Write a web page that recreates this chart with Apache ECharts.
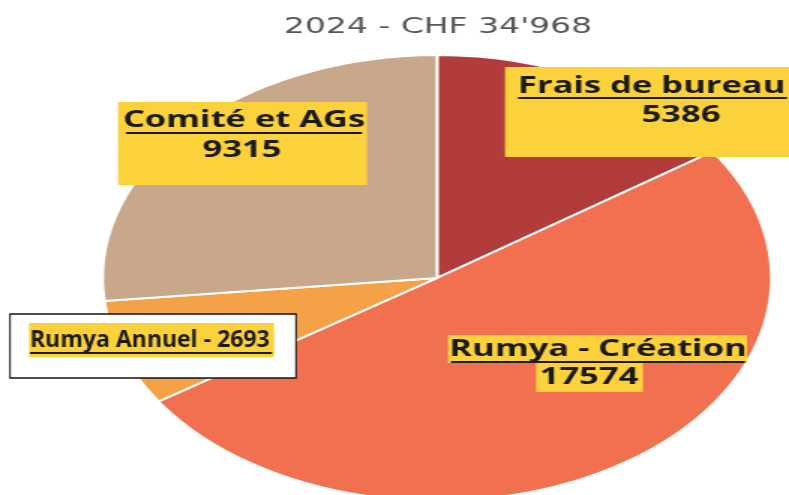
<!DOCTYPE html>
<html><head><meta charset="utf-8">
<script src="https://cdn.jsdelivr.net/npm/echarts@6/dist/echarts.min.js"></script>
<style>
html,body{margin:0;padding:0;width:789px;height:495px;overflow:hidden;background:#fff}
#c{position:absolute;left:0;top:0;width:584px;height:495px;transform:scaleX(1.5);transform-origin:0 0;}
</style></head><body><div id="c"></div>
<script>
const titleText = "2024 - CHF 34'968";
const categories = ['Frais de bureau', 'Rumya - Création', 'Rumya Annuel', 'Comité et AGs'];
const values = [5386, 17574, 2693, 9315];
const colors = ['#b23c3a', '#f0704f', '#f4a148', '#c8a78b'];

const SX = 1.5;               // horizontal stretch of the scanned chart
const X = x => x / SX;        // page x -> local x
const YEL = '#fcd23c';
const INK = '#1a1a1a';
const FONT = {fontFamily: 'Open Sans', fontWeight: 'bold', fontSize: 23};

function txt(x, y, s, align) {
  return {type: 'text', x: x, y: y, z: 100,
    style: Object.assign({text: s, fill: INK, align: align, verticalAlign: 'middle'}, FONT)};
}
function rect(x, y, w, h, fill, stroke, lw) {
  const r = {type: 'rect', z: 99, shape: {x: x, y: y, width: w, height: h}, style: {fill: fill}};
  if (stroke) { r.style.stroke = stroke; r.style.lineWidth = lw; }
  return r;
}
function uline(x1, x2, y) {
  return {type: 'line', z: 100, shape: {x1: x1, y1: y, x2: x2, y2: y}, style: {stroke: INK, lineWidth: 2}};
}

const graphics = [
  // Frais de bureau
  rect(X(505), 67, X(290), 90, YEL),
  txt(X(518), 86, categories[0], 'left'),
  uline(X(518), X(787), 98),
  txt(X(681), 115, String(values[0]), 'center'),
  // Comité et AGs
  rect(X(118), 102, X(249), 83, YEL),
  txt(X(244), 120, categories[3], 'center'),
  uline(X(126), X(362), 133),
  txt(X(242), 150, String(values[3]), 'center'),
  // Rumya - Création
  rect(X(448), 335, X(299), 28, YEL),
  rect(X(536), 363, X(107), 29, YEL),
  txt(X(598), 349, categories[1], 'center'),
  uline(X(451), X(745), 362),
  txt(X(589), 377, String(values[1]), 'center'),
  // Rumya Annuel (not stretched)
  {type: 'group', x: 0, y: 0, scaleX: 1 / SX, children: [
    rect(10, 314, 286, 64, '#ffffff', '#111111', 1.5),
    rect(29, 323, 245, 34, YEL),
    txt(30, 340, categories[2] + ' - ' + values[2], 'left'),
    uline(30, 272, 353)
  ]}
];

const chart = echarts.init(document.getElementById('c'), null, {renderer: 'canvas'});
chart.setOption({
  animation: false,
  backgroundColor: '#ffffff',
  title: {
    text: titleText, left: 'center', top: 11,
    textStyle: {fontFamily: 'DejaVu Sans', fontSize: 22, fontWeight: 'normal', color: '#555555'}
  },
  series: [{
    type: 'pie',
    center: [X(437), 278],
    radius: 223,
    startAngle: 90,
    clockwise: true,
    silent: true,
    label: {show: false},
    labelLine: {show: false},
    itemStyle: {borderColor: '#ffffff', borderWidth: 2},
    data: categories.map((c, i) => ({name: c, value: values[i], itemStyle: {color: colors[i]}}))
  }],
  graphic: graphics
});
</script></body></html>
